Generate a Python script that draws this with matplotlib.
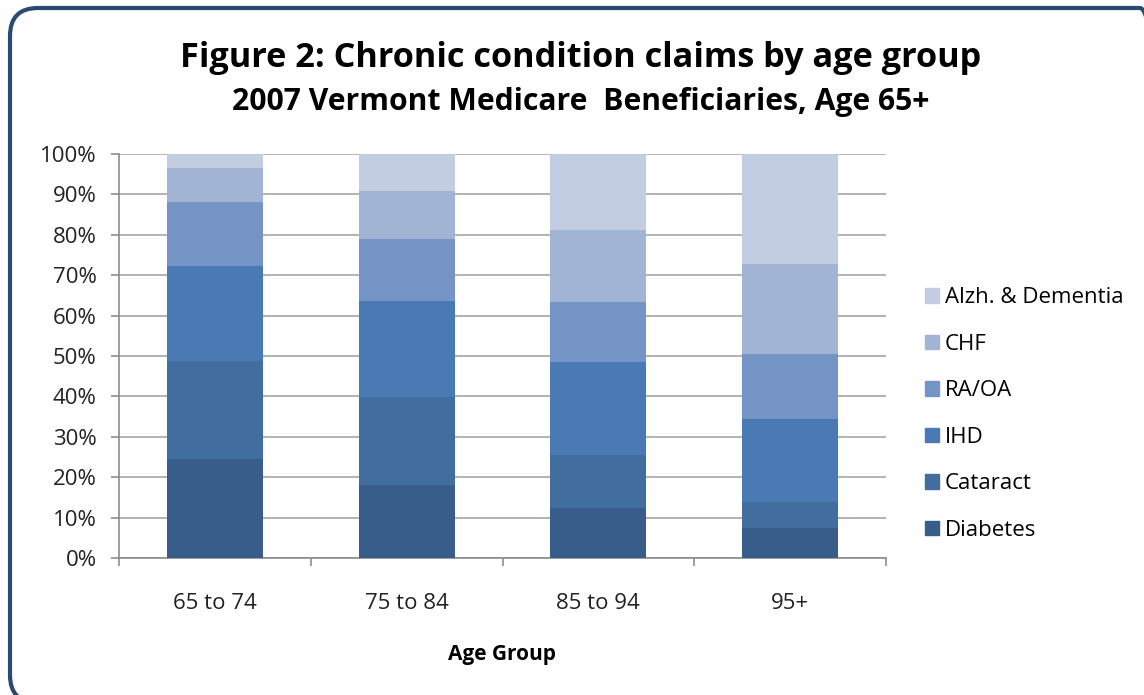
import numpy as np
import matplotlib
matplotlib.use("Agg")
import matplotlib.pyplot as plt
from matplotlib.patches import FancyBboxPatch, Patch
from matplotlib.transforms import IdentityTransform

plt.rcParams['font.family'] = ['Open Sans', 'DejaVu Sans']

age_groups = ["65 to 74", "75 to 84", "85 to 94", "95+"]
conditions = ["Diabetes", "Cataract", "IHD", "RA/OA", "CHF", "Alzh. & Dementia"]

# share of claims (%) per condition, one value per age group
diabetes = [24.6, 18.1, 12.3, 7.5]
cataract = [24.2, 21.8, 13.1, 6.4]
ihd = [23.4, 23.8, 23.0, 20.5]
ra_oa = [15.9, 15.3, 15.0, 16.2]
chf = [8.5, 11.8, 17.7, 22.2]
alzh = [3.4, 9.2, 18.9, 27.2]

colors = ["#385d8a", "#426d9f", "#4a7ab4", "#7394c4", "#a2b4d4", "#c3cde1"]

series = [diabetes, cataract, ihd, ra_oa, chf, alzh]
values = np.array(series)
values = values / values.sum(axis=0) * 100

fig = plt.figure(figsize=(11.44, 6.95), dpi=100)
W, H = 1144, 695

# rounded frame around the whole chart (pixel coords, partly off the right/bottom edge)
frame = FancyBboxPatch((10, -8), 1158, 695,
                       boxstyle="round,pad=0,rounding_size=28",
                       transform=IdentityTransform(), facecolor="none",
                       edgecolor="#2b4a73", linewidth=3.0, zorder=-1)
fig.patches.append(frame)

ax = fig.add_axes([119 / W, 1 - 558 / H, (886 - 119) / W, (558 - 154) / H])
ax.set_facecolor("none")

x = np.arange(len(age_groups))
bottom = np.zeros(len(age_groups))
for vals, color, name in zip(values, colors, conditions):
    ax.bar(x, vals, width=0.5, bottom=bottom, color=color, label=name, zorder=3)
    bottom += vals

ax.set_xlim(-0.5, len(age_groups) - 0.5)
ax.set_ylim(0, 100)
ax.set_yticks(np.arange(0, 101, 10))
ax.set_yticklabels([f"{v}%" for v in range(0, 101, 10)], fontsize=16, color="#222222")
ax.yaxis.grid(True, color="#a6a6a6", linewidth=1.2, zorder=0)
ax.set_xticks(x)
ax.set_xticklabels(age_groups, fontsize=16, color="#222222")
ax.set_xticks(np.arange(-0.5, len(age_groups)), minor=True)
ax.tick_params(axis="x", which="major", length=0, pad=25)
ax.tick_params(axis="x", which="minor", length=6, color="#8c8c8c", width=1.2)
ax.tick_params(axis="y", length=6, color="#8c8c8c", width=1.2, pad=10)
for side in ["top", "right"]:
    ax.spines[side].set_visible(False)
for side in ["left", "bottom"]:
    ax.spines[side].set_color("#8c8c8c")
    ax.spines[side].set_linewidth(1.2)

ax.set_xlabel("Age Group", fontsize=15, fontweight="bold", labelpad=22)

fig.text(581 / W, 1 - 58 / H, "Figure 2: Chronic condition claims by age group",
         ha="center", va="center", fontsize=24.7, fontweight="bold")
fig.text(581 / W, 1 - 102 / H, "2007 Vermont Medicare  Beneficiaries, Age 65+",
         ha="center", va="center", fontsize=21.7, fontweight="bold")

handles = [Patch(facecolor=c, edgecolor=c) for c in colors][::-1]
fig.legend(handles, conditions[::-1], loc="center left",
           bbox_to_anchor=(905 / W, 1 - 414 / H), frameon=False,
           fontsize=16, handlelength=0.63, handleheight=0.63,
           handletextpad=0.25, labelspacing=1.15)

fig.savefig("out.png", dpi=100)
